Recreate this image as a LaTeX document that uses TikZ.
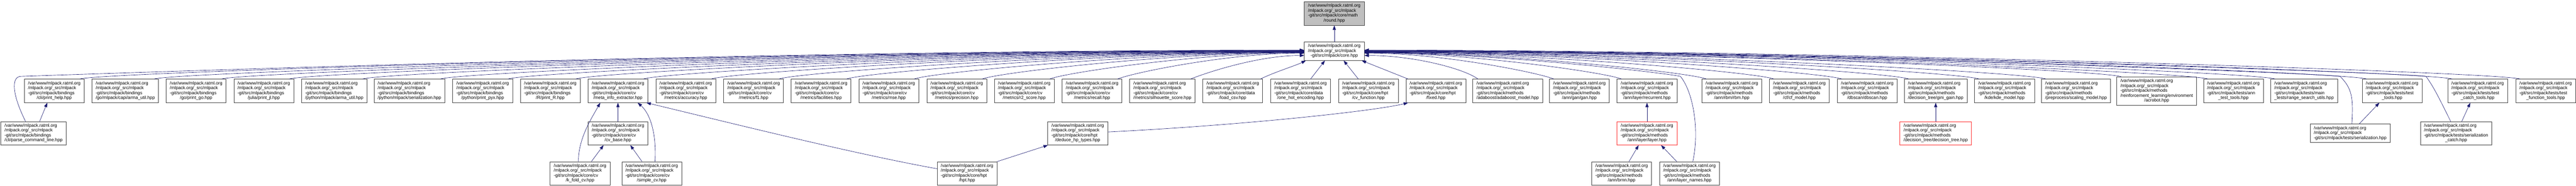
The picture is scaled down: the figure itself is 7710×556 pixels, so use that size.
\documentclass[tikz,border=0pt]{standalone}
\usepackage{fontspec}
\setmainfont{Liberation Sans}
\usetikzlibrary{calc,arrows.meta}

\definecolor{edgeblue}{HTML}{191970}
\definecolor{boxline}{HTML}{404040}
\definecolor{focusgrey}{HTML}{BFBFBF}
\definecolor{cutred}{HTML}{FF3030}

% four line file label, last line centred
\newcommand{\mlp}[2]{\begin{tabular}{@{}l@{}}/var/www/mlpack.ratml.org\\/mlpack.org/\_src/mlpack\\#1\\\multicolumn{1}{@{}c@{}}{#2}\end{tabular}}
% three line file label
\newcommand{\mlpt}[1]{\begin{tabular}{@{}l@{}}/var/www/mlpack.ratml.org\\/mlpack.org/\_src/mlpack\\\multicolumn{1}{@{}c@{}}{#1}\end{tabular}}

\begin{document}
\begin{tikzpicture}[x=0.75pt,y=-0.75pt,font=\fontsize{10}{11}\selectfont]
\tikzset{
% file boxes: plain, the file of this graph, and cut off ones
file node/.style={draw=boxline,line width=0.75pt,fill=white,inner xsep=8.25pt,inner ysep=4.25pt},
focus node/.style={file node,fill=focusgrey},
cut node/.style={file node,draw=cutred},
dep/.style={draw=edgeblue,line width=0.75pt,-{Triangle[length=10pt,width=7pt]}}
}
\useasboundingbox (0,0) rectangle (7710,556);

% The files
\node(round)[focus node] at (3993.5,40.5) {\mlp{-git/src/mlpack/core/math}{/round.hpp}};
\node(core)[file node] at (3993.5,153) {\mlpt{-git/src/mlpack/core.hpp}};

% files that include core.hpp
\node(printhelp)[file node] at (162.5,272) {\mlp{-git/src/mlpack/bindings}{/cli/print\_help.hpp}};
\node(goarma)[file node] at (375,272) {\mlp{-git/src/mlpack/bindings}{/go/mlpack/capi/arma\_util.hpp}};
\node(printgo)[file node] at (587,272) {\mlp{-git/src/mlpack/bindings}{/go/print\_go.hpp}};
\node(printjl)[file node] at (789.5,272) {\mlp{-git/src/mlpack/bindings}{/julia/print\_jl.hpp}};
\node(pyarma)[file node] at (1000.5,272) {\mlp{-git/src/mlpack/bindings}{/python/mlpack/arma\_util.hpp}};
\node(pyser)[file node] at (1225.5,272) {\mlp{-git/src/mlpack/bindings}{/python/mlpack/serialization.hpp}};
\node(printpyx)[file node] at (1444.5,272) {\mlp{-git/src/mlpack/bindings}{/python/print\_pyx.hpp}};
\node(printR)[file node] at (1647,272) {\mlp{-git/src/mlpack/bindings}{/R/print\_R.hpp}};
\node(metainfo)[file node] at (1849.5,272) {\mlp{-git/src/mlpack/core/cv}{/meta\_info\_extractor.hpp}};
\node(accuracy)[file node] at (2052.5,272) {\mlp{-git/src/mlpack/core/cv}{/metrics/accuracy.hpp}};
\node(fone)[file node] at (2255.5,272) {\mlp{-git/src/mlpack/core/cv}{/metrics/f1.hpp}};
\node(facilities)[file node] at (2457.5,272) {\mlp{-git/src/mlpack/core/cv}{/metrics/facilities.hpp}};
\node(mse)[file node] at (2660,272) {\mlp{-git/src/mlpack/core/cv}{/metrics/mse.hpp}};
\node(precision)[file node] at (2863.5,272) {\mlp{-git/src/mlpack/core/cv}{/metrics/precision.hpp}};
\node(rtwo)[file node] at (3065.5,272) {\mlp{-git/src/mlpack/core/cv}{/metrics/r2\_score.hpp}};
\node(recall)[file node] at (3268.5,272) {\mlp{-git/src/mlpack/core/cv}{/metrics/recall.hpp}};
\node(silhouette)[file node] at (3479,272) {\mlp{-git/src/mlpack/core/cv}{/metrics/silhouette\_score.hpp}};
\node(loadcsv)[file node] at (3689.5,272) {\mlp{-git/src/mlpack/core/data}{/load\_csv.hpp}};
\node(onehot)[file node] at (3892.5,272) {\mlp{-git/src/mlpack/core/data}{/one\_hot\_encoding.hpp}};
\node(cvfunction)[file node] at (4095.5,272) {\mlp{-git/src/mlpack/core/hpt}{/cv\_function.hpp}};
\node(fixed)[file node] at (4297.5,272) {\mlp{-git/src/mlpack/core/hpt}{/fixed.hpp}};
\node(adaboost)[file node] at (4512.5,272) {\mlp{-git/src/mlpack/methods}{/adaboost/adaboost\_model.hpp}};
\node(gan)[file node] at (4727,272) {\mlp{-git/src/mlpack/methods}{/ann/gan/gan.hpp}};
\node(recurrent)[file node] at (4929.5,272) {\mlp{-git/src/mlpack/methods}{/ann/layer/recurrent.hpp}};
\node(rbm)[file node] at (5183.5,272) {\mlp{-git/src/mlpack/methods}{/ann/rbm/rbm.hpp}};
\node(cfmodel)[file node] at (5385.5,272) {\mlp{-git/src/mlpack/methods}{/cf/cf\_model.hpp}};
\node(dbscan)[file node] at (5588.5,272) {\mlp{-git/src/mlpack/methods}{/dbscan/dbscan.hpp}};
\node(gini)[file node] at (5793.5,272) {\mlp{-git/src/mlpack/methods}{/decision\_tree/gini\_gain.hpp}};
\node(kde)[file node] at (5999.5,272) {\mlp{-git/src/mlpack/methods}{/kde/kde\_model.hpp}};
\node(scaling)[file node] at (6213.5,272) {\mlp{-git/src/mlpack/methods}{/preprocess/scaling\_model.hpp}};
\node(acrobot)[file node] at (6455,272.5) {\mlp{-git/src/mlpack/methods\\/reinforcement\_learning/environment}{/acrobot.hpp}};
\node(anntest)[file node] at (6684.5,272) {\mlp{-git/src/mlpack/tests/ann}{\_test\_tools.hpp}};
\node(rangesearch)[file node] at (6896,272) {\mlp{-git/src/mlpack/tests/main}{\_tests/range\_search\_utils.hpp}};
\node(testtools)[file node] at (7159.5,272) {\mlp{-git/src/mlpack/tests/test}{\_tools.hpp}};
\node(catchtools)[file node] at (7415.5,272) {\mlp{-git/src/mlpack/tests/test}{\_catch\_tools.hpp}};
\node(functools)[file node] at (7619,272) {\mlp{-git/src/mlpack/tests/test}{\_function\_tools.hpp}};

% third row
\node(parsecmd)[file node] at (100.5,399) {\mlp{-git/src/mlpack/bindings}{/cli/parse\_command\_line.hpp}};
\node(cvbase)[file node] at (1849.5,399) {\mlp{-git/src/mlpack/core/cv}{/cv\_base.hpp}};
\node(deduce)[file node] at (3225.5,399) {\mlp{-git/src/mlpack/core/hpt}{/deduce\_hp\_types.hpp}};
\node(layer)[cut node] at (4929.5,399) {\mlp{-git/src/mlpack/methods}{/ann/layer/layer.hpp}};
\node(dtree)[cut node] at (5793.5,399) {\mlp{-git/src/mlpack/methods}{/decision\_tree/decision\_tree.hpp}};
\node(testser)[file node] at (7034,399) {\mlpt{-git/src/mlpack/tests/serialization.hpp}};
\node(sercatch)[file node] at (7351,399) {\mlp{-git/src/mlpack/tests/serialization}{\_catch.hpp}};

% bottom row
\node(kfold)[file node] at (1736,519) {\mlp{-git/src/mlpack/core/cv}{/k\_fold\_cv.hpp}};
\node(simplecv)[file node] at (1950.5,519) {\mlp{-git/src/mlpack/core/cv}{/simple\_cv.hpp}};
\node(hpt)[file node] at (2894.5,519) {\mlp{-git/src/mlpack/core/hpt}{/hpt.hpp}};
\node(brnn)[file node] at (4853.5,519) {\mlp{-git/src/mlpack/methods}{/ann/brnn.hpp}};
\node(layernames)[file node] at (5056.5,519) {\mlp{-git/src/mlpack/methods}{/ann/layer\_names.hpp}};

% core.hpp includes round.hpp
\draw[dep] (core) -- (round);

% edges into core.hpp from the left
\foreach \n/\dy in {printhelp/-2,goarma/-2,printgo/-1,printjl/-1,pyarma/0,pyser/0,printpyx/1,printR/1,metainfo/2,accuracy/2,fone/3,facilities/3,mse/4,precision/4,rtwo/5,recall/6,silhouette/13}{
\path ($(core.west)+(0,\dy)$) coordinate (t) ($(\n.north east)+(-14,0)$) coordinate (s);
\draw[dep] (s) .. controls +(50,-20) and ($(t)!0.4!(s|-t)$) .. (t);
}
% edges into core.hpp from the right
\foreach \n/\dy in {gan/6,recurrent/5,rbm/4,cfmodel/4,dbscan/3,gini/3,kde/2,scaling/2,acrobot/1,anntest/1,rangesearch/0,testtools/-1,catchtools/-2,functools/-3}{
\path ($(core.east)+(0,\dy)$) coordinate (t) ($(\n.north west)+(14,0)$) coordinate (s);
\draw[dep] (s) .. controls +(-50,-20) and ($(t)!0.4!(s|-t)$) .. (t);
}
% the short ones under core.hpp
\draw[dep] ($(loadcsv.north east)+(-7,0)$) .. controls +(40,-20) and +(-30,15) .. ($(core.south west)+(5,0)$);
\draw[dep] ($(onehot.north east)+(-60,0)$) -- ($(core.south)+(-28,0)$);
\draw[dep] ($(cvfunction.north)+(-30,0)$) -- ($(core.south)+(28,0)$);
\draw[dep] ($(fixed.north west)+(7,0)$) -- ($(core.south east)+(-8,0)$);
\draw[dep] ($(adaboost.north west)+(16,0)$) .. controls +(-40,-30) and +(150,0) .. ($(core.east)+(0,13)$);

% long ones from the lower rows
\coordinate (pbend) at ($(parsecmd.north)+(-38,-135)$);
\coordinate (pt) at ($(core.west)+(0,-3)$);
\draw[dep] ($(parsecmd.north)+(-24,0)$) .. controls +(-40,-80) and +(-30,1) .. (pbend) .. controls +(600,-20) and ($(pt)!0.4!(pbend|-pt)$) .. (pt);
\coordinate (lbend) at ($(layernames.north)+(-27,-255)$);
\coordinate (lt) at ($(core.east)+(0,5)$);
\draw[dep] ($(layernames.north)+(10,0)$) .. controls +(20,-90) and +(40,50) .. (lbend) .. controls +(-60,-12) and ($(lt)!0.4!(lbend|-lt)$) .. (lt);
\coordinate (sbend) at ($(testser.north)+(-30,-142)$);
\coordinate (st) at ($(core.east)+(0,0)$);
\draw[dep] ($(testser.north)+(5,0)$) .. controls +(5,-80) and +(35,35) .. (sbend) .. controls +(-60,-10) and ($(st)!0.4!(sbend|-st)$) .. (st);
\coordinate (cbend) at ($(sercatch.north)+(-90,-135)$);
\coordinate (ct) at ($(core.east)+(0,-1)$);
\draw[dep] ($(sercatch.north)+(-16,0)$) .. controls +(-35,-70) and +(25,35) .. (cbend) .. controls +(-60,-10) and ($(ct)!0.4!(cbend|-ct)$) .. (ct);

% edges between the lower rows
\draw[dep] ($(parsecmd.north)+(18,0)$) -- ($(printhelp.south)+(-21,0)$);
\draw[dep] (cvbase) -- (metainfo);
\draw[dep] ($(kfold.north)+(-5,0)$) .. controls +(0,-70) and +(-25,45) .. ($(metainfo.south)+(-53,0)$);
\draw[dep] ($(kfold.north)+(34,0)$) -- ($(cvbase.south)+(-43,0)$);
\draw[dep] ($(simplecv.north)+(-29,0)$) -- ($(cvbase.south)+(37,0)$);
\draw[dep] ($(simplecv.north)+(10,0)$) .. controls +(5,-90) and +(35,30) .. ($(metainfo.south)+(59,0)$);
\draw[dep] ($(hpt.west)+(0,-14)$) .. controls +(-250,-45) and +(250,60) .. ($(metainfo.south east)+(-5,0)$);
\draw[dep] (hpt.north east) -- ($(deduce.south west)+(1,0)$);
\draw[dep] ($(deduce.east)+(0,-4)$) .. controls +(400,-20) and +(-100,25) .. ($(fixed.south west)+(7,0)$);
\draw[dep] (layer) -- (recurrent);
\draw[dep] ($(brnn.north)+(22,0)$) -- ($(layer.south)+(-25,0)$);
\draw[dep] ($(layernames.north)+(-38,0)$) -- ($(layer.south)+(42,0)$);
\draw[dep] (dtree) -- (gini);
\draw[dep] ($(testser.north)+(27,0)$) -- ($(testtools.south)+(-38,0)$);
\draw[dep] ($(sercatch.north)+(17,0)$) -- ($(catchtools.south)+(-22,0)$);
\end{tikzpicture}
\end{document}
